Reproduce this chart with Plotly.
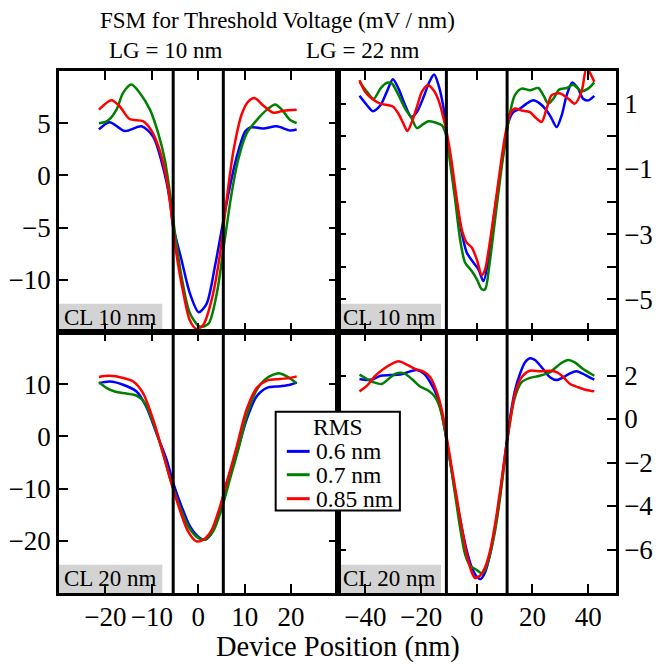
import plotly.graph_objects as go
from plotly.subplots import make_subplots

FONT = "Liberation Serif"

# ---------------- data ----------------
series_names = ["0.6 nm", "0.7 nm", "0.85 nm"]
series_colors = ["#0000ff", "#008000", "#ff0000"]

# Top-left: LG = 10 nm, CL 10 nm
tl_blue_x = [-21.4, -19.1, -15.8, -12.2, -9.7, -7.6, -6.1, -5.4, -3.6, -1.8, 0.1, 1.8, 3.6, 5.3, 6.8, 8.3, 10.1, 11.2, 14.0, 16.9, 19.8, 21.2]
tl_blue_y = [4.4, 5.1, 4.25, 4.7, 3.7, 0.8, -2.4, -4.9, -8.1, -11.3, -13.1, -12.3, -8.7, -4.6, -1.1, 1.8, 4.2, 4.6, 4.5, 4.7, 4.3, 4.4]
tl_green_x = [-21.4, -19.6, -17.6, -16.2, -14.4, -12.6, -10.4, -8.6, -7.2, -6.1, -5.0, -3.6, -1.8, 0.4, 2.2, 4.0, 5.5, 7.2, 8.6, 10.4, 12.6, 14.8, 16.6, 18.0, 19.8, 21.2]
tl_green_y = [5.0, 5.2, 6.3, 7.9, 8.7, 7.9, 6.3, 4.0, 1.5, -1.7, -5.6, -9.7, -13.2, -14.5, -14.2, -11.3, -6.8, -1.7, 1.5, 4.0, 5.3, 6.3, 6.8, 6.3, 5.3, 5.0]
tl_red_x = [-21.4, -18.7, -16.9, -14.8, -11.9, -10.1, -8.3, -6.8, -5.8, -4.7, -3.2, -1.8, -0.4, 1.1, 2.9, 4.7, 6.1, 7.6, 9.4, 10.8, 12.2, 14.0, 16.2, 18.4, 21.2]
tl_red_y = [6.3, 7.2, 6.6, 5.4, 5.2, 4.3, 2.4, -0.4, -3.6, -7.5, -11.3, -13.9, -14.7, -14.3, -11.9, -7.5, -2.4, 2.4, 5.9, 7.1, 7.4, 6.7, 6.0, 6.2, 6.3]

# Top-right: LG = 22 nm, CL 10 nm
tr_blue_x = [-42.1, -39.4, -37.3, -34.6, -32.3, -30.1, -28.1, -25.7, -23.5, -21.5, -19.1, -17.0, -15.3, -13.7, -11.9, -10.8, -9.0, -7.2, -5.4, -3.6, -1.2, 0.6, 2.4, 4.2, 6.0, 7.8, 9.6, 11.4, 13.1, 15.5, 17.9, 20.3, 22.7, 25.1, 26.9, 28.7, 30.5, 32.3, 34.3, 36.4, 38.2, 40.0, 42.2]
tr_blue_y = [1.24, 0.95, 0.77, 0.95, 1.36, 1.75, 1.46, 0.95, 0.59, 0.74, 1.2, 1.67, 1.89, 1.56, 0.85, 0.03, -1.0, -2.03, -2.95, -3.56, -3.87, -4.08, -4.44, -3.77, -2.54, -1.51, -0.49, 0.44, 0.74, 0.85, 1.0, 1.1, 1.0, 0.79, 0.54, 0.28, 0.64, 1.26, 1.65, 1.46, 1.15, 1.1, 1.24]
tr_green_x = [-42.1, -39.4, -37.0, -34.6, -32.3, -30.5, -28.1, -25.7, -23.3, -21.5, -19.1, -17.3, -14.9, -12.5, -11.0, -9.6, -7.8, -6.0, -4.2, -1.8, 0.0, 1.8, 3.0, 4.5, 6.6, 8.4, 10.2, 12.0, 13.7, 16.1, 19.1, 22.1, 23.9, 25.7, 27.5, 29.6, 32.3, 34.6, 37.6, 40.0, 42.2]
tr_green_y = [1.67, 1.36, 1.15, 1.46, 1.64, 1.62, 1.26, 0.85, 0.54, 0.25, 0.38, 0.46, 0.42, 0.33, 0.03, -0.79, -1.92, -3.15, -3.87, -4.13, -4.38, -4.69, -4.69, -3.97, -2.54, -1.31, -0.18, 0.74, 1.26, 1.46, 1.41, 1.48, 1.26, 1.0, 1.15, 1.43, 1.48, 1.58, 1.38, 1.46, 1.65]
tr_red_x = [-42.1, -40.1, -37.6, -34.6, -31.7, -29.9, -28.1, -26.3, -24.9, -23.3, -21.5, -19.7, -17.6, -15.5, -13.7, -11.9, -10.8, -9.0, -7.2, -5.4, -3.6, -1.8, 0.0, 1.8, 3.0, 4.5, 6.6, 8.4, 10.2, 12.0, 13.7, 16.1, 19.1, 21.5, 23.3, 25.1, 26.9, 29.9, 32.9, 35.2, 37.6, 39.4, 40.6, 42.2]
tr_red_y = [1.72, 1.36, 1.15, 1.0, 0.95, 0.9, 0.69, 0.38, 0.16, 0.44, 0.9, 1.36, 1.56, 1.41, 1.1, 0.54, 0.13, -0.79, -1.92, -2.85, -3.26, -3.41, -3.77, -4.26, -4.08, -3.36, -2.13, -1.0, 0.03, 0.69, 0.85, 0.79, 0.74, 0.54, 0.44, 0.85, 1.26, 1.31, 1.15, 1.0, 1.36, 2.1, 1.95, 1.67]

# Bottom-left: LG = 10 nm, CL 20 nm
bl_blue_x = [-21.4, -19.1, -16.2, -13.3, -11.2, -9.0, -6.8, -5.4, -3.6, -1.8, 0.0, 1.4, 2.9, 4.7, 6.1, 8.3, 10.4, 12.6, 14.8, 17.6, 19.8, 21.2]
bl_blue_y = [10.2, 10.5, 9.9, 8.6, 5.7, 0.6, -4.5, -8.9, -13.4, -17.2, -19.2, -19.8, -18.5, -14.0, -8.9, -3.2, 3.2, 7.7, 9.3, 9.6, 9.9, 10.3]
bl_green_x = [-21.4, -19.8, -18.0, -15.5, -13.3, -11.5, -9.7, -7.6, -5.8, -4.0, -2.2, -0.4, 1.4, 3.2, 5.0, 6.8, 8.6, 10.4, 12.6, 14.8, 17.3, 19.1, 21.2]
bl_green_y = [10.4, 9.3, 8.6, 8.2, 7.8, 6.4, 2.6, -3.2, -8.9, -13.4, -17.2, -19.2, -19.8, -18.2, -14.0, -8.3, -2.6, 3.8, 8.9, 11.2, 12.1, 11.5, 10.2]
bl_red_x = [-21.4, -19.1, -16.2, -14.0, -11.9, -9.7, -7.6, -5.8, -4.0, -2.2, -0.4, 1.1, 2.9, 4.7, 6.5, 8.3, 10.4, 12.6, 14.8, 17.6, 19.8, 21.2]
bl_red_y = [11.4, 11.6, 11.2, 10.5, 8.3, 3.2, -3.2, -8.9, -14.0, -18.2, -20.1, -19.8, -17.9, -13.4, -7.7, -1.9, 5.1, 9.3, 10.7, 11.0, 11.2, 11.5]

# Bottom-right: LG = 22 nm, CL 20 nm
br_blue_x = [-42.1, -39.4, -37.0, -34.6, -31.1, -27.5, -23.9, -21.5, -19.1, -16.7, -14.3, -12.5, -10.8, -9.0, -7.2, -5.4, -3.6, -1.8, 0.0, 1.4, 3.0, 4.8, 6.6, 8.4, 10.2, 12.0, 13.7, 15.5, 17.3, 19.1, 20.9, 23.3, 26.3, 28.7, 31.1, 33.5, 35.8, 38.2, 40.0, 42.2]
br_blue_y = [1.84, 1.79, 1.84, 1.99, 2.02, 2.04, 2.19, 2.25, 2.1, 1.69, 1.07, 0.23, -1.0, -2.38, -3.75, -4.98, -6.05, -6.82, -7.25, -7.36, -7.05, -6.21, -4.98, -3.45, -1.61, 0.08, 1.3, 2.07, 2.6, 2.79, 2.71, 2.38, 1.92, 1.79, 1.92, 2.1, 2.19, 2.07, 1.95, 1.81]
br_green_x = [-42.1, -39.4, -37.0, -34.1, -31.7, -29.3, -26.3, -23.3, -20.3, -17.3, -14.9, -13.1, -11.4, -9.6, -7.8, -6.0, -4.2, -2.4, 0.0, 1.8, 3.0, 4.8, 6.6, 8.4, 10.2, 12.0, 13.7, 16.1, 19.1, 22.7, 26.3, 29.9, 32.9, 35.2, 38.2, 42.2]
br_green_y = [2.04, 1.84, 1.69, 1.61, 1.84, 2.07, 2.11, 1.84, 1.49, 1.3, 1.0, 0.46, -0.54, -1.92, -3.45, -4.98, -6.21, -6.74, -6.94, -7.1, -6.94, -6.21, -5.13, -3.6, -1.76, -0.08, 1.0, 1.69, 1.89, 1.99, 2.15, 2.53, 2.71, 2.6, 2.3, 1.99]
br_red_x = [-42.1, -39.4, -36.4, -33.5, -30.5, -28.1, -25.1, -22.1, -19.1, -16.7, -14.3, -12.5, -10.8, -9.0, -7.2, -5.4, -3.6, -1.8, -0.6, 1.2, 3.0, 4.8, 6.6, 8.4, 10.2, 12.0, 13.7, 16.1, 19.1, 22.7, 26.3, 28.7, 31.1, 33.5, 36.4, 39.4, 42.2]
br_red_y = [1.27, 1.53, 1.99, 2.3, 2.53, 2.65, 2.5, 2.3, 2.18, 1.92, 1.23, 0.38, -0.84, -2.22, -3.6, -4.98, -6.21, -7.05, -7.31, -7.2, -6.82, -6.05, -4.83, -3.3, -1.61, -0.08, 1.15, 1.92, 2.22, 2.19, 2.22, 2.15, 1.92, 1.61, 1.46, 1.33, 1.27]

panels = [
    (1, 1, [(tl_blue_x, tl_blue_y), (tl_green_x, tl_green_y), (tl_red_x, tl_red_y)]),
    (1, 2, [(tr_blue_x, tr_blue_y), (tr_green_x, tr_green_y), (tr_red_x, tr_red_y)]),
    (2, 1, [(bl_blue_x, bl_blue_y), (bl_green_x, bl_green_y), (bl_red_x, bl_red_y)]),
    (2, 2, [(br_blue_x, br_blue_y), (br_green_x, br_green_y), (br_red_x, br_red_y)]),
]

# axis settings
left_x_range = [-30, 30]
left_x_ticks = [-20, -10, 0, 10, 20]
right_x_range = [-50, 50]
right_x_ticks = [-40, -20, 0, 20, 40]
gate_left = [-5.4, 5.4]
gate_right = [-10.9, 10.9]

tl_y_range = [-15, 10]
tl_y_ticks = [-10, -5, 0, 5]
tr_y_range = [-6, 2]
tr_y_ticks = [-5, -4, -3, -2, -1, 0, 1]
tr_y_text = ["\u22125", "", "\u22123", "", "\u22121", "", "1"]
bl_y_range = [-30, 20]
bl_y_ticks = [-20, -10, 0, 10]
br_y_range = [-8, 4]
br_y_ticks = [-6, -4, -2, 0, 2]

panel_labels = ["CL 10 nm", "CL 10 nm", "CL 20 nm", "CL 20 nm"]

# ---------------- figure ----------------
fig = make_subplots(rows=2, cols=2, horizontal_spacing=0, vertical_spacing=0)

for r, c, data in panels:
    for (xs, ys), name, col in zip(data, series_names, series_colors):
        fig.add_trace(go.Scatter(x=xs, y=ys, mode="lines", name=name,
                                 line=dict(color=col, width=2.5, shape="spline", smoothing=0.8),
                                 showlegend=False), row=r, col=c)

axis_common = dict(showline=True, linewidth=2.5, linecolor="black", mirror="ticks",
                   ticks="inside", ticklen=9, tickwidth=1.5, tickcolor="black",
                   showgrid=False, zeroline=False, automargin=False,
                   tickfont=dict(family=FONT, size=27, color="black"))

for r in (1, 2):
    fig.update_xaxes(range=left_x_range, tickvals=left_x_ticks, row=r, col=1, **axis_common)
    fig.update_xaxes(range=right_x_range, tickvals=right_x_ticks, row=r, col=2, **axis_common)
fig.update_xaxes(showticklabels=False, row=1)
fig.update_xaxes(ticklabelstandoff=-2, row=2)

fig.update_yaxes(range=tl_y_range, tickvals=tl_y_ticks, row=1, col=1, **axis_common)
fig.update_yaxes(range=tr_y_range, tickvals=tr_y_ticks, ticktext=tr_y_text, side="right", row=1, col=2, **axis_common)
fig.update_yaxes(range=bl_y_range, tickvals=bl_y_ticks, row=2, col=1, **axis_common)
fig.update_yaxes(range=br_y_range, tickvals=br_y_ticks, side="right", row=2, col=2, **axis_common)

shapes = []
annotations = []
axis_ids = [("x", "y"), ("x2", "y2"), ("x3", "y3"), ("x4", "y4")]
gates = [gate_left, gate_right, gate_left, gate_right]
box_w = [0.371, 0.372, 0.371, 0.372]
for (xa, ya), g, lab, bw in zip(axis_ids, gates, panel_labels, box_w):
    for gx in g:
        shapes.append(dict(type="line", xref=xa, yref=ya + " domain", x0=gx, x1=gx, y0=0, y1=1,
                           line=dict(color="black", width=3)))
    shapes.append(dict(type="rect", xref=xa + " domain", yref=ya + " domain", x0=0, x1=bw, y0=0, y1=0.108,
                       fillcolor="#d3d3d3", line=dict(width=0), layer="below"))
    annotations.append(dict(text=lab, xref=xa + " domain", yref=ya + " domain", x=0.012, y=0.054,
                            xanchor="left", yanchor="middle", showarrow=False,
                            font=dict(family=FONT, size=23, color="black")))

# custom legend
leg_x0, leg_x1, leg_y0, leg_y1 = 0.389, 0.612, 0.158, 0.347
shapes.append(dict(type="rect", xref="paper", yref="paper", x0=leg_x0, x1=leg_x1, y0=leg_y0, y1=leg_y1,
                   fillcolor="white", line=dict(color="black", width=2), layer="above"))
annotations.append(dict(text="RMS", xref="paper", yref="paper", x=(leg_x0 + leg_x1) / 2, y=0.318,
                        xanchor="center", yanchor="middle", showarrow=False,
                        font=dict(family=FONT, size=23.5, color="black")))
leg_rows = [0.2713, 0.2266, 0.1807]
for name, col, yy in zip(series_names, series_colors, leg_rows):
    shapes.append(dict(type="line", xref="paper", yref="paper", x0=0.409, x1=0.450, y0=yy, y1=yy,
                       line=dict(color=col, width=3), layer="above"))
    annotations.append(dict(text=name, xref="paper", yref="paper", x=0.457, y=yy,
                            xanchor="left", yanchor="middle", showarrow=False,
                            font=dict(family=FONT, size=23.5, color="black")))

# titles
annotations.append(dict(text="FSM for Threshold Voltage (mV / nm)", xref="paper", yref="paper",
                        x=0.3926, y=1.0964, xanchor="center", yanchor="middle", showarrow=False,
                        font=dict(family=FONT, size=23, color="black")))
annotations.append(dict(text="LG = 10 nm", xref="paper", yref="paper", x=0.1917, y=1.0389,
                        xanchor="center", yanchor="middle", showarrow=False,
                        font=dict(family=FONT, size=23, color="black")))
annotations.append(dict(text="LG = 22 nm", xref="paper", yref="paper", x=0.5452, y=1.0389,
                        xanchor="center", yanchor="middle", showarrow=False,
                        font=dict(family=FONT, size=23, color="black")))
annotations.append(dict(text="Device Position (nm)", xref="paper", yref="paper", x=0.5, y=-0.104,
                        xanchor="center", yanchor="middle", showarrow=False,
                        font=dict(family=FONT, size=28.5, color="black")))

fig.update_layout(width=659, height=666, margin=dict(l=59, r=43, t=71, b=73, autoexpand=False),
                  paper_bgcolor="white", plot_bgcolor="white",
                  shapes=shapes, annotations=annotations, showlegend=False,
                  font=dict(family=FONT, color="black"))

fig.write_html("out.html", config={"displayModeBar": False},
               post_script="document.body.style.margin='0';document.body.style.padding='0';")
